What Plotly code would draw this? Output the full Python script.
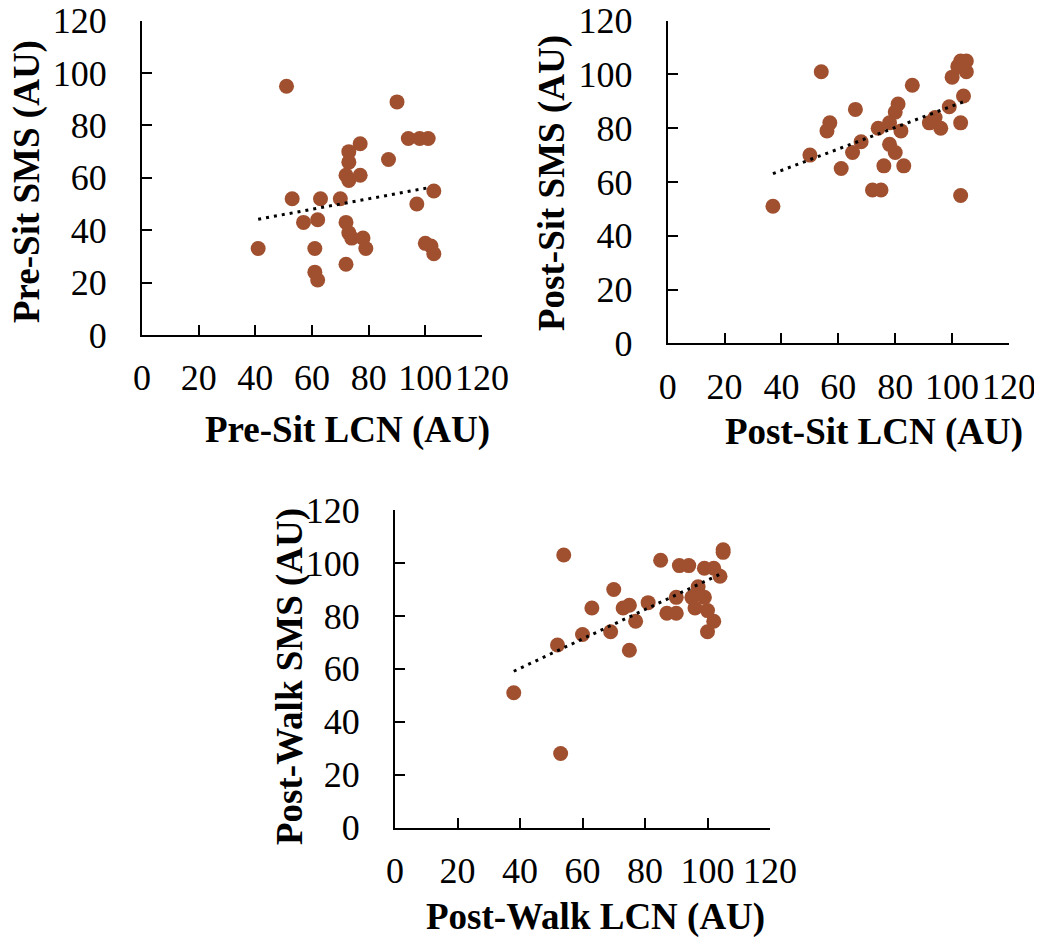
import plotly.graph_objects as go

# ---------------- data ----------------
pre_sit_lcn = [51, 90, 94, 98, 101, 77, 73, 73, 87, 72, 73, 77, 103, 97, 53, 63, 70,
               57, 62, 72, 73, 74, 78, 79, 41, 61, 61, 62, 72, 100, 102, 103]
pre_sit_sms = [95, 89, 75, 75, 75, 73, 70, 66, 67, 61, 59, 61, 55, 50, 52, 52, 52,
               43, 44, 43, 39, 37, 37, 33, 33, 33, 24, 21, 27, 35, 34, 31]

post_sit_lcn = [54, 86, 66, 81, 80, 57, 56, 74, 78, 82, 68, 78, 80, 65, 50, 61, 76,
                83, 72, 75, 37, 103, 92, 94, 96, 99, 104, 103, 100, 102, 105, 103, 105]
post_sit_sms = [101, 96, 87, 89, 86, 82, 79, 80, 82, 79, 75, 74, 71, 71, 70, 65, 66,
                66, 57, 57, 51, 55, 82, 84, 80, 88, 92, 82, 99, 103, 105, 105, 101]

post_walk_lcn = [54, 53, 38, 52, 60, 63, 70, 69, 73, 75, 77, 75, 81, 85, 87, 90, 90,
                 91, 94, 99, 102, 105, 105, 104, 97, 95, 99, 96, 100, 102, 100]
post_walk_sms = [103, 28, 51, 69, 73, 83, 90, 74, 83, 84, 78, 67, 85, 101, 81, 81, 87,
                 99, 99, 98, 98, 105, 104, 95, 91, 87, 87, 83, 82, 78, 74]

# linear trend lines: [x_start, x_end], slope, intercept
pre_sit_trend_x = [41, 101.5]
pre_sit_trend = (0.20, 36.0)
post_sit_trend_x = [37, 105]
post_sit_trend = (0.399, 48.35)
post_walk_trend_x = [38, 105]
post_walk_trend = (0.555, 38.0)

tick_vals = [0, 20, 40, 60, 80, 100, 120]
tick_text = ["0", "20", "40", "60", "80", "100", "120"]

x_titles = ["Pre-Sit LCN (AU)", "Post-Sit LCN (AU)", "Post-Walk LCN (AU)"]
y_titles = ["Pre-Sit SMS (AU)", "Post-Sit SMS (AU)", "Post-Walk SMS (AU)"]

# ---------------- layout helpers ----------------
# the page places the figure 8px in from the top-left corner (body margin)
OFF = 8
W, H = 1042 - OFF, 938 - OFF
def px_x(p):
    return (p - OFF) / W
def px_y(p):
    return 1 - (p - OFF) / H

MARKER = "#A0502F"
FONT = "Liberation Serif"

fig = go.Figure()

panels = [
    (pre_sit_lcn, pre_sit_sms, pre_sit_trend_x, pre_sit_trend),
    (post_sit_lcn, post_sit_sms, post_sit_trend_x, post_sit_trend),
    (post_walk_lcn, post_walk_sms, post_walk_trend_x, post_walk_trend),
]
# plot-area pixel boxes (page pixels): (left, right, top, bottom)
boxes = [
    (142, 482, 20.7, 335),
    (667.7, 1009, 20.7, 343.3),
    (395, 770, 510, 827.7),
]
# axis-title centres in page pixels: (x-title cx, cy), (y-title cx, cy)
title_pos = [
    ((347, 430), (27, 182)),
    ((874, 432), (552, 183)),
    ((595, 917), (290, 677)),
]

for i, ((xs, ys, tx, (m, b)), (l, r, t, bt)) in enumerate(zip(panels, boxes)):
    n = "" if i == 0 else str(i + 1)
    xa, ya = "x" + n, "y" + n
    fig.add_trace(go.Scatter(
        x=xs, y=ys, mode="markers", xaxis=xa, yaxis=ya,
        marker=dict(size=15, color=MARKER, line=dict(width=0)),
        showlegend=False, hoverinfo="x+y"))
    ty = [m * v + b for v in tx]
    fig.add_trace(go.Scatter(
        x=tx, y=ty, mode="lines", xaxis=xa, yaxis=ya,
        line=dict(color="black", width=3, dash="3px,5px"),
        showlegend=False, hoverinfo="skip"))

    common = dict(
        range=[0, 120], tickvals=tick_vals, ticktext=tick_text,
        showline=True, linecolor="black", linewidth=2,
        ticks="inside", ticklen=10, tickwidth=2, tickcolor="black",
        showgrid=False, zeroline=False, automargin=False,
        ticklabeloverflow="allow",
        tickfont=dict(family=FONT, size=36, color="black"),
        fixedrange=True,
    )
    fig.layout["xaxis" + n] = dict(
        common, domain=[px_x(l), px_x(r)], anchor=ya,
        ticklabelstandoff=10)
    fig.layout["yaxis" + n] = dict(
        common, domain=[px_y(bt), px_y(t)], anchor=xa,
        ticklabelstandoff=26)

    (xcx, xcy), (ycx, ycy) = title_pos[i]
    fig.add_annotation(
        text="<b>%s</b>" % x_titles[i], xref="paper", yref="paper",
        x=px_x(xcx), y=px_y(xcy), xanchor="center", yanchor="middle",
        showarrow=False, font=dict(family=FONT, size=37, color="black"))
    fig.add_annotation(
        text="<b>%s</b>" % y_titles[i], xref="paper", yref="paper",
        x=px_x(ycx), y=px_y(ycy), xanchor="center", yanchor="middle",
        textangle=-90, showarrow=False,
        font=dict(family=FONT, size=37, color="black"))

fig.update_layout(
    template="none",
    width=W, height=H, margin=dict(l=0, r=0, t=0, b=0),
    paper_bgcolor="white", plot_bgcolor="white",
)

fig.write_html("out.html")
